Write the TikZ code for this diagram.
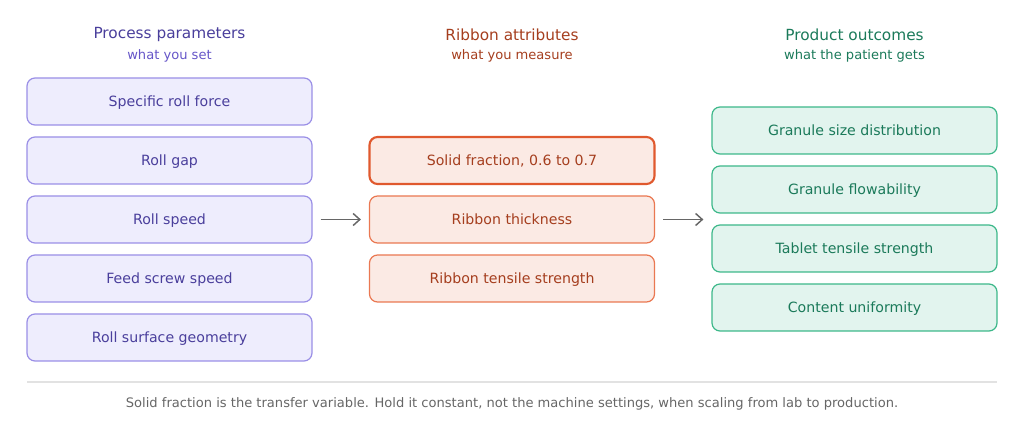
\documentclass[tikz,border=0pt]{standalone}
\usepackage{fontspec}
\setmainfont{DejaVu Sans}
\usetikzlibrary{arrows.meta}
\definecolor{setfill}{HTML}{EEEDFD}
\definecolor{setline}{HTML}{9A8FE6}
\definecolor{settext}{HTML}{4A3F9C}
\definecolor{setsub}{HTML}{6656C8}
\definecolor{measfill}{HTML}{FBEAE4}
\definecolor{measline}{HTML}{EA7852}
\definecolor{measkey}{HTML}{E0592E}
\definecolor{meastext}{HTML}{A53E1E}
\definecolor{getfill}{HTML}{E2F4EE}
\definecolor{getline}{HTML}{3DB88A}
\definecolor{gettext}{HTML}{1B7A5A}
\definecolor{arrowgray}{HTML}{666666}
\definecolor{rulegray}{HTML}{E2E2E2}

\begin{document}
\begin{tikzpicture}[x=0.75pt,y=-0.75pt,
		box/.style={rounded corners=6pt, minimum width=213.75pt, minimum height=35.25pt, line width=0.9pt, font=\fontsize{10.6}{12}\selectfont, inner sep=0pt, text height=1.6ex, text depth=0.2ex},
		setbox/.style={box, draw=setline, fill=setfill, text=settext},
		measbox/.style={box, draw=measline, fill=measfill, text=meastext},
		getbox/.style={box, draw=getline, fill=getfill, text=gettext},
		head/.style={font=\fontsize{11.5}{14}\selectfont, yshift=-1.5pt},
		subhead/.style={font=\fontsize{9.8}{12}\selectfont, yshift=-1.5pt},
		flow/.style={arrowgray, line width=1.1pt, -{Straight Barb[length=5pt,width=9pt]}, shorten <=6pt, shorten >=6pt}]
		\useasboundingbox (0,0) rectangle (1024,423);
		
		% column heads
		\node[head, text=settext] (hset) at (169.5,33) {Process parameters};
		\node[subhead, text=setsub] (sset) at (169.5,54) {what you set};
		\node[head, text=meastext] (hmeas) at (512,33) {Ribbon attributes};
		\node[subhead, text=meastext] (smeas) at (512,54) {what you measure};
		\node[head, text=gettext] (hget) at (854.5,33) {Product outcomes};
		\node[subhead, text=gettext] (sget) at (854.5,54) {what the patient gets};
		
		% process parameters
		\node[setbox] (p1) at (169.5,101.5) {Specific roll force};
		\node[setbox] (p2) at (169.5,160.5) {Roll gap};
		\node[setbox] (p3) at (169.5,219.5) {Roll speed};
		\node[setbox] (p4) at (169.5,278.5) {Feed screw speed};
		\node[setbox] (p5) at (169.5,337.5) {Roll surface geometry};
		
		% ribbon attributes
		\node[measbox, draw=measkey, line width=1.6pt] (r1) at (512,160.5) {Solid fraction, 0.6 to 0.7};
		\node[measbox] (r2) at (512,219.5) {Ribbon thickness};
		\node[measbox] (r3) at (512,278.5) {Ribbon tensile strength};
		
		% product outcomes
		\node[getbox] (g1) at (854.5,130.5) {Granule size distribution};
		\node[getbox] (g2) at (854.5,189.5) {Granule flowability};
		\node[getbox] (g3) at (854.5,248.5) {Tablet tensile strength};
		\node[getbox] (g4) at (854.5,307.5) {Content uniformity};
		
		\draw[flow] (p3.east) -- (r2.west);
		\draw[flow] (r2.east) -- (r2.east -| g1.west);
		
		% footer
		\coordinate (ra) at (27,382);
		\coordinate (rb) at (997,382);
		\draw[rulegray, line width=0.8pt] (ra) -- (rb);
		\node[font=\fontsize{9.8}{12}\selectfont, text=arrowgray, yshift=-1pt] (foot) at (512,403) {Solid fraction is the transfer variable. Hold it constant, not the machine settings, when scaling from lab to production.};
	\end{tikzpicture}
\end{document}
